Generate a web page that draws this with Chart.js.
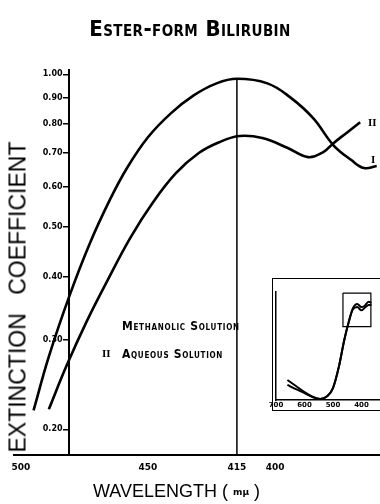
<!DOCTYPE html>
<html>
<head>
<meta charset="utf-8">
<script src="https://cdn.jsdelivr.net/npm/chart.js@4.4.1/dist/chart.umd.min.js"></script>
<style>
  body { margin: 0; background: #fff; }
  #wrap { position: relative; width: 380px; height: 504px; overflow: hidden; background: #fff; }
  #wrap canvas { position: absolute; }
  .txt { position: absolute; color: #000; white-space: nowrap; line-height: 1; }
  #title { left: 0; width: 380px; top: 16px; text-align: center; font: bold 22px "DejaVu Sans Condensed", "DejaVu Sans", sans-serif; font-variant: small-caps; letter-spacing: 0.4px; }
  #ytitle { left: 18px; top: 297px; transform: translate(-50%, -50%) rotate(-90deg); font: 23px "Liberation Sans", sans-serif; word-spacing: 12px; }
  #xtitle { left: 93px; top: 481px; font: 18px "Liberation Sans", sans-serif; }
  #xtitle small { font: bold 9px "DejaVu Sans", sans-serif; vertical-align: middle; }
  .leg { font: bold 12px "DejaVu Sans Condensed", "DejaVu Sans", sans-serif; font-variant: small-caps; letter-spacing: 0.7px; }
  .roman { font: bold 11px "Liberation Serif", serif; }
  #insetBox { position: absolute; left: 272px; top: 278px; width: 130px; height: 131px; border: 1.5px solid #000; }
</style>
</head>
<body>
<div id="wrap">
  <canvas id="main" width="380" height="504" style="left:0;top:0"></canvas>
  <div id="insetBox"></div>
  <canvas id="inset" width="118" height="130" style="left:262px;top:280px"></canvas>
  <div class="txt" id="title">Ester-form Bilirubin</div>
  <div class="txt" id="ytitle">EXTINCTION COEFFICIENT</div>
  <div class="txt" id="xtitle">WAVELENGTH ( <small>mμ</small> )</div>
  <div class="txt leg" style="left:122px;top:319px">Methanolic Solution</div>
  <div class="txt roman" style="left:102px;top:347px">II</div>
  <div class="txt leg" style="left:122px;top:347px">Aqueous Solution</div>
  <div class="txt roman" style="left:368px;top:116px">II</div>
  <div class="txt roman" style="left:371px;top:153px">I</div>
</div>
<script>
// main graph: extinction coefficient (log scale) against wavelength
const xTicks = [500, 450, 415, 400];
const yTicks = [0.20, 0.30, 0.40, 0.50, 0.60, 0.70, 0.80, 0.90, 1.00];

const wavelengthsI = [495, 489, 481, 473, 465, 458, 450, 441, 432, 423, 415, 403, 394, 385, 377, 370, 365, 360];
const methanolicI  = [0.218, 0.278, 0.365, 0.463, 0.566, 0.657, 0.752, 0.838, 0.909, 0.960, 0.980, 0.960, 0.901, 0.820, 0.725, 0.678, 0.654, 0.660];

const wavelengthsII = [489, 482, 474, 466, 457, 448, 439, 430, 422, 414, 405, 395, 387, 381, 377, 372, 366.5];
const aqueousII     = [0.219, 0.267, 0.327, 0.392, 0.476, 0.560, 0.639, 0.700, 0.735, 0.756, 0.749, 0.716, 0.687, 0.703, 0.732, 0.766, 0.805];

const peakWavelength = 415;
const peakLineY = [0.178, 0.98];

// inset: whole spectrum, relative units
const insetTicks = [700, 600, 500, 400];
const insetWavelengths = [660, 630, 600, 570, 545, 520, 500, 480, 460, 445, 430, 415, 400, 390, 375, 365];
const insetI  = [0.185, 0.13, 0.074, 0.028, 0.01, 0.037, 0.11, 0.30, 0.56, 0.72, 0.85, 0.89, 0.86, 0.87, 0.91, 0.90];
const insetII = [0.14, 0.10, 0.065, 0.025, 0.01, 0.035, 0.11, 0.30, 0.56, 0.72, 0.84, 0.86, 0.83, 0.85, 0.88, 0.88];
const zoomBoxX = [465, 367, 367, 465, 465];
const zoomBoxY = [0.99, 0.99, 0.68, 0.68, 0.99];

const pts = (xs, ys) => xs.map((x, i) => ({x: x, y: ys[i]}));

Chart.defaults.color = '#000';
Chart.defaults.font.family = '"DejaVu Sans", sans-serif';

const curve = {
    borderColor: '#000',
    borderWidth: 2.6,
    pointRadius: 0,
    fill: false,
    tension: 0.4
};

const logY = {
    type: 'logarithmic',
    axis: 'y',
    min: 0.178,
    max: 1.02,
    afterBuildTicks: s => { s.ticks = yTicks.map(v => ({value: v})); }
};

new Chart(document.getElementById('main').getContext('2d'), {
    type: 'line',
    data: {
        datasets: [
            Object.assign({label: 'I Methanolic Solution', data: pts(wavelengthsI, methanolicI)}, curve),
            Object.assign({label: 'II Aqueous Solution', data: pts(wavelengthsII, aqueousII)}, curve),
            {
                label: '415',
                data: pts([peakWavelength, peakWavelength], peakLineY),
                borderColor: '#000',
                borderWidth: 1.5,
                pointRadius: 0
            }
        ]
    },
    options: {
        responsive: false,
        animation: false,
        layout: { padding: { top: 70, left: 14, right: 0, bottom: 0 } },
        plugins: { legend: { display: false }, tooltip: { enabled: false } },
        scales: {
            x: {
                type: 'linear',
                reverse: true,
                min: 358.7,
                max: 502.7,
                afterBuildTicks: s => { s.ticks = xTicks.map(v => ({value: v})); },
                afterFit: s => { s.height = 49; },
                border: { display: true, color: '#000', width: 2 },
                grid: { display: false, drawTicks: false },
                ticks: { padding: 7, font: { size: 9, weight: 'bold' }, maxRotation: 0 }
            },
            // axis line and tick marks
            y: Object.assign({
                position: { x: 481 },
                border: { display: true, color: '#000', width: 2 },
                grid: { drawOnChartArea: false, drawTicks: true, tickLength: 5, color: '#000', lineWidth: 1.5 },
                ticks: { display: false }
            }, logY),
            // tick labels, just left of the axis
            yLabels: Object.assign({
                position: { x: 483.6 },
                border: { display: false },
                grid: { display: false },
                ticks: { font: { size: 8, weight: 'bold' }, callback: v => v.toFixed(2) }
            }, logY)
        }
    }
});

const thin = {
    borderColor: '#000',
    borderWidth: 2,
    pointRadius: 0,
    fill: false,
    cubicInterpolationMode: 'monotone'
};

new Chart(document.getElementById('inset').getContext('2d'), {
    type: 'line',
    data: {
        datasets: [
            Object.assign({label: 'I', data: pts(insetWavelengths, insetI)}, thin),
            Object.assign({label: 'II', data: pts(insetWavelengths, insetII)}, thin),
            {
                label: 'box',
                data: pts(zoomBoxX, zoomBoxY),
                borderColor: '#000',
                borderWidth: 1.2,
                pointRadius: 0,
                tension: 0
            }
        ]
    },
    options: {
        responsive: false,
        animation: false,
        layout: { padding: { top: 12, left: 14, right: 0, bottom: 0 } },
        plugins: { legend: { display: false }, tooltip: { enabled: false } },
        scales: {
            x: {
                type: 'linear',
                reverse: true,
                min: 335,
                max: 700,
                afterBuildTicks: s => { s.ticks = insetTicks.map(v => ({value: v})); },
                afterFit: s => { s.height = 10; },
                border: { display: true, color: '#000', width: 1.5 },
                grid: { display: false, drawTicks: false },
                ticks: { padding: 1, font: { size: 7, weight: 'bold' }, maxRotation: 0 }
            },
            y: {
                min: 0,
                max: 1,
                afterFit: s => { s.width = 0; },
                border: { display: true, color: '#000', width: 1.5 },
                grid: { display: false },
                ticks: { display: false }
            }
        }
    }
});
</script>
</body>
</html>
